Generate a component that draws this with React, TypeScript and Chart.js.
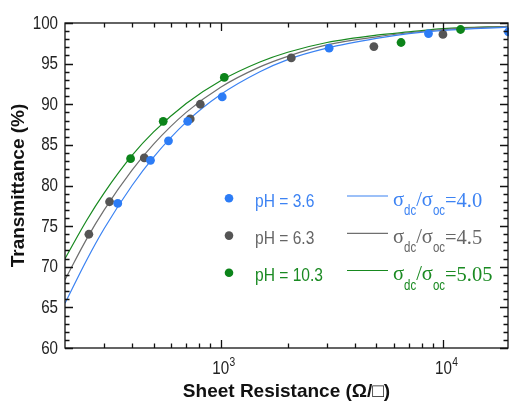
import React, { useEffect, useRef } from 'react';
import { Chart, registerables } from 'chart.js';

Chart.register(...registerables);

// ---- data ----
const blueR = [345, 484, 583, 711, 1016, 3068, 8570, 19600];
const blueT = [77.8, 83.1, 85.5, 87.9, 90.9, 96.9, 98.7, 98.9];
const grayR = [256, 317, 454, 730, 810, 2075, 4874, 9950];
const grayT = [74.0, 78.0, 83.4, 88.2, 90.0, 95.7, 97.1, 98.6];
const greenR = [394, 552, 1038, 6454, 11940];
const greenT = [83.3, 87.9, 93.3, 97.6, 99.2];

const fitR = [200, 250, 300, 400, 500, 700, 1000, 1500, 2000, 3000, 5000, 7000, 10000, 20000];
const fitBlue = [65.5, 70.8, 74.7, 80.0, 83.5, 87.8, 91.2, 94.0, 95.5, 96.9, 98.1, 98.7, 99.1, 99.5];
const fitGray = [68.4, 73.4, 77.0, 81.9, 85.1, 89.0, 92.1, 94.6, 95.9, 97.3, 98.3, 98.8, 99.2, 99.6];
const fitGreen = [71.0, 75.7, 79.1, 83.7, 86.6, 90.1, 92.9, 95.2, 96.4, 97.6, 98.5, 98.9, 99.3, 99.6];

const phLabels = ['pH = 3.6', 'pH = 6.3', 'pH = 10.3'];
const ratioLabels = ['4.0', '4.5', '5.05'];

const yMin = 60;
const yMax = 100;
const yStep = 5;
const yTickLabels = ['60', '65', '70', '75', '80', '85', '90', '95', '100'];
const xMin = 200;
const xMax = 19500;
const xMajorTicks = [1000, 10000];
const xMajorBase = ['10', '10'];
const xMajorExp = ['3', '4'];
const xMinorTicks = [300, 400, 500, 600, 700, 800, 900, 2000, 3000, 4000, 5000, 6000, 7000, 8000, 9000];

const BLUE = '#2c7cf6';
const BLUE_LINE = '#3a82f2';
const GRAY = '#555555';
const GRAY_LINE = '#6f6f6f';
const GREEN = '#0c841a';
const GREEN_LINE = '#17891f';
const pointColors = [BLUE, GRAY, GREEN];
const lineColors = [BLUE_LINE, GRAY_LINE, GREEN_LINE];
const textColors = ['#3d83f3', '#666666', '#1a8a22'];

const SANS = "'Liberation Sans', Arial, sans-serif";
const SERIF = "'Liberation Serif', 'Times New Roman', serif";
const NARROW_X = 0.82;

const pts = (xs: number[], ys: number[]) => xs.map((x, i) => ({ x, y: ys[i] }));

// draws horizontally condensed text (Arial Narrow look); returns the drawn width
function narrowText(ctx: CanvasRenderingContext2D, text: string, x: number, y: number, size: number, align: 'left' | 'center' | 'right') {
  ctx.save();
  ctx.font = `${size}px ${SANS}`;
  const w = ctx.measureText(text).width * NARROW_X;
  let sx = x;
  if (align === 'center') sx = x - w / 2;
  if (align === 'right') sx = x - w;
  ctx.translate(sx, y);
  ctx.scale(NARROW_X, 1);
  ctx.textAlign = 'left';
  ctx.fillText(text, 0, 0);
  ctx.restore();
  return w;
}

const framePlugin = {
  id: 'frameTicks',
  afterDatasetsDraw(chart: any) {
    const { ctx, chartArea, scales } = chart;
    const { left, right, top, bottom } = chartArea;
    const x = scales.x;
    const y = scales.y;
    ctx.save();
    ctx.strokeStyle = '#111111';
    ctx.lineWidth = 1.3;
    ctx.strokeRect(left, top, right - left, bottom - top);
    ctx.beginPath();
    for (let v = yMin; v <= yMax; v += 1) {
      const py = Math.round(y.getPixelForValue(v)) + 0.5;
      const len = v % yStep === 0 ? 8 : 4.5;
      ctx.moveTo(left, py);
      ctx.lineTo(left + len, py);
      ctx.moveTo(right, py);
      ctx.lineTo(right - len, py);
    }
    const drawX = (v: number, len: number) => {
      const px = Math.round(x.getPixelForValue(v)) + 0.5;
      ctx.moveTo(px, bottom);
      ctx.lineTo(px, bottom - len);
      ctx.moveTo(px, top);
      ctx.lineTo(px, top + len);
    };
    xMajorTicks.forEach((v) => drawX(v, 8));
    xMinorTicks.forEach((v) => drawX(v, 4.5));
    ctx.stroke();

    ctx.fillStyle = '#222222';
    // y tick labels
    ctx.textBaseline = 'middle';
    yTickLabels.forEach((t) => {
      const py = y.getPixelForValue(Number(t));
      narrowText(ctx, t, left - 7, py + 0.5, 18.5, 'right');
    });
    // x tick labels with superscript exponent
    ctx.textBaseline = 'alphabetic';
    xMajorTicks.forEach((v, i) => {
      const px = x.getPixelForValue(v);
      const w = narrowText(ctx, xMajorBase[i], px, 373.5, 18.5, 'center');
      narrowText(ctx, xMajorExp[i], px + w / 2 + 0.5, 365.5, 12.5, 'left');
    });
    ctx.restore();
  },
  afterDraw(chart: any) {
    const { ctx } = chart;
    ctx.save();
    const rowBase = [206.5, 243.8, 281];
    rowBase.forEach((b, i) => {
      // marker
      ctx.fillStyle = pointColors[i];
      ctx.beginPath();
      ctx.arc(229, b - 8.2, 4.3, 0, Math.PI * 2);
      ctx.fill();
      // pH text
      ctx.fillStyle = textColors[i];
      ctx.textBaseline = 'alphabetic';
      narrowText(ctx, phLabels[i], 255, b, 19, 'left');
      // line sample
      ctx.strokeStyle = lineColors[i];
      ctx.lineWidth = 1.2;
      ctx.beginPath();
      ctx.moveTo(347, b - 10.5);
      ctx.lineTo(388, b - 10.5);
      ctx.stroke();
      // sigma expression
      let cx = 393;
      const big = `20.5px ${SERIF}`;
      const serif = (t: string, dy: number) => {
        ctx.font = big;
        ctx.textAlign = 'left';
        ctx.fillText(t, cx, b + dy);
        cx += ctx.measureText(t).width;
      };
      const sub = (t: string) => {
        cx += narrowText(ctx, t, cx, b + 8.5, 14, 'left');
      };
      serif('σ', -1);
      sub('dc');
      serif('/', -1);
      serif('σ', -1);
      sub('oc');
      serif('=' + ratioLabels[i], 0);
    });
    ctx.restore();
  },
};

export default function App() {
  const ref = useRef<HTMLCanvasElement | null>(null);
  useEffect(() => {
    if (!ref.current) return;
    const lineDs = (data: number[], color: string) => ({
      type: 'line' as const,
      data: pts(fitR, data),
      borderColor: color,
      backgroundColor: color,
      borderWidth: 1.2,
      pointRadius: 0,
      showLine: true,
      fill: false,
      cubicInterpolationMode: 'monotone' as const,
    });
    const ptDs = (xs: number[], ys: number[], color: string) => ({
      type: 'scatter' as const,
      data: pts(xs, ys),
      backgroundColor: color,
      borderColor: color,
      borderWidth: 0,
      pointRadius: 4.4,
      clip: false as any,
    });
    const chart = new Chart(ref.current, {
      type: 'scatter',
      data: {
        datasets: [
          ptDs(blueR, blueT, BLUE),
          ptDs(grayR, grayT, GRAY),
          ptDs(greenR, greenT, GREEN),
          lineDs(fitBlue, BLUE_LINE),
          lineDs(fitGray, GRAY_LINE),
          lineDs(fitGreen, GREEN_LINE),
        ] as any,
      },
      plugins: [framePlugin],
      options: {
        animation: false,
        responsive: false,
        devicePixelRatio: 1,
        layout: { autoPadding: false, padding: { top: 23, right: 1, left: 0, bottom: 0 } },
        plugins: { legend: { display: false }, tooltip: { enabled: false } },
        scales: {
          x: {
            type: 'logarithmic',
            min: xMin,
            max: xMax,
            grid: { display: false, drawTicks: false },
            border: { display: false },
            ticks: { display: false },
            title: {
              display: true,
              text: 'Sheet Resistance (Ω/□)',
              color: '#111111',
              font: { family: SANS, size: 19, weight: 'bold' },
              padding: { top: 0, bottom: 0 },
            },
            afterFit: (s: any) => {
              s.height = 55;
            },
          },
          y: {
            type: 'linear',
            min: yMin,
            max: yMax,
            grid: { display: false, drawTicks: false },
            border: { display: false },
            ticks: { display: false, stepSize: yStep },
            title: {
              display: true,
              text: 'Transmittance (%)',
              color: '#111111',
              font: { family: SANS, size: 19, weight: 'bold' },
              padding: { top: 7, bottom: 0 },
            },
            afterFit: (s: any) => {
              s.width = 65;
            },
          },
        },
      } as any,
    });
    return () => chart.destroy();
  }, []);
  return (
    <div style={{ position: 'absolute', left: 0, top: 0, width: 509, height: 403, overflow: 'hidden', background: '#fff' }}>
      <canvas ref={ref} width={509} height={403} style={{ display: 'block' }} />
    </div>
  );
}
